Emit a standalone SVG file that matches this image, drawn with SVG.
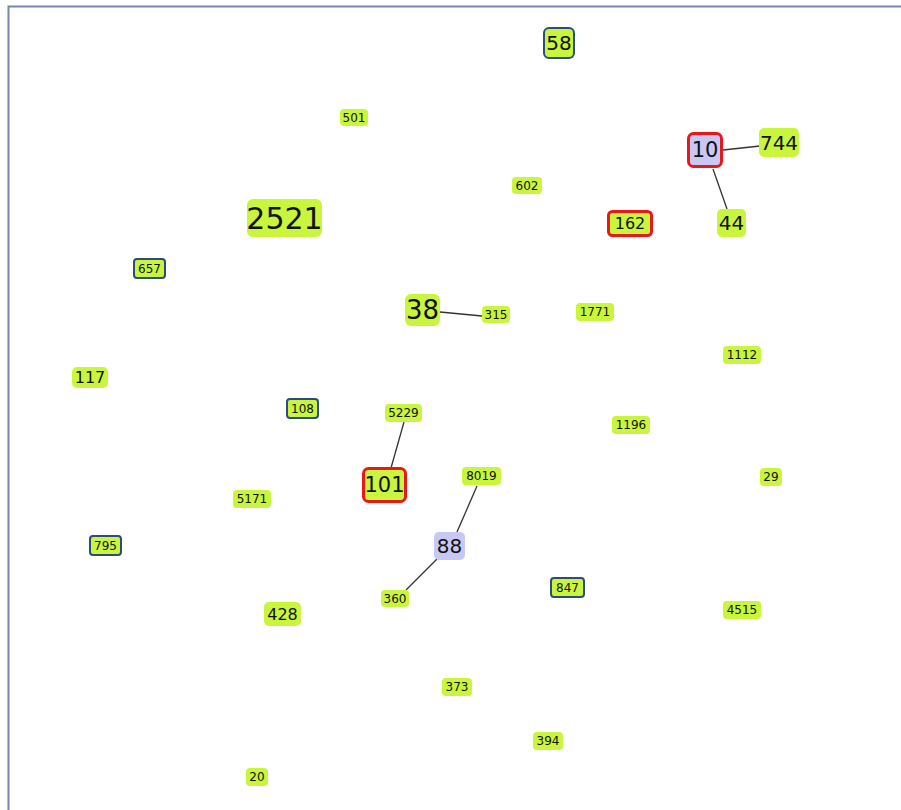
<svg xmlns="http://www.w3.org/2000/svg" width="901" height="810" viewBox="0 0 901 810">
<style>
.n{fill:#c9f53c;stroke:none}
.b{fill:#c9f53c;stroke:#2c4c80;stroke-width:2}
.r{fill:#c9f53c;stroke:#e81818;stroke-width:3}
.l{fill:#c8c8f4;stroke:none}
.lr{fill:#c8c8f4;stroke:#e81818;stroke-width:3}
text{font-family:"DejaVu Sans","Liberation Sans",sans-serif;fill:#111;text-anchor:middle;dominant-baseline:central}
.s{font-size:12px}
.m{font-size:16px}
.g{font-size:20px}
#edges line{stroke:#333;stroke-width:1.3}
</style>
<rect x="0" y="0" width="901" height="810" fill="#fff"/>
<path d="M8.5 810 V6.5 H901" fill="none" stroke="#7888a8" stroke-width="2"/>
<g id="edges">
<line x1="723" y1="150" x2="760" y2="146"/>
<line x1="713" y1="169" x2="727" y2="209"/>
<line x1="440" y1="312" x2="482" y2="316"/>
<line x1="404" y1="422" x2="391" y2="468"/>
<line x1="477" y1="486" x2="457" y2="532"/>
<line x1="437" y1="559" x2="406" y2="590"/>
</g>
<g id="n58"><rect class="b" x="544" y="28" width="30" height="30" rx="5"/><text x="559" y="43" style="font-size:20px">58</text></g>
<g id="n501"><rect class="n" x="340" y="109" width="28" height="17" rx="4"/><text class="s" x="354" y="117.5">501</text></g>
<g id="n10"><rect class="lr" x="688.5" y="133.5" width="33" height="33" rx="5"/><text x="705" y="150" style="font-size:21px">10</text></g>
<g id="n744"><rect class="n" x="759" y="128" width="40" height="29" rx="5"/><text class="g" x="779" y="142.5">744</text></g>
<g id="n602"><rect class="n" x="512" y="177" width="30" height="17" rx="4"/><text class="s" x="527" y="185.5">602</text></g>
<g id="n2521"><rect class="n" x="247" y="199" width="75" height="38" rx="6"/><text x="284.5" y="218" style="font-size:30px">2521</text></g>
<g id="n162"><rect class="r" x="608.5" y="211.5" width="43" height="24" rx="4"/><text class="m" x="630" y="223.5">162</text></g>
<g id="n44"><rect class="n" x="717" y="209" width="29" height="28" rx="5"/><text class="g" x="731.5" y="223">44</text></g>
<g id="n657"><rect class="b" x="134" y="259" width="31" height="19" rx="3"/><text class="s" x="149.5" y="268.5">657</text></g>
<g id="n38"><rect class="n" x="405" y="294" width="35" height="32" rx="6"/><text x="422.5" y="310" style="font-size:26px">38</text></g>
<g id="n315"><rect class="n" x="482" y="306" width="28" height="17" rx="4"/><text class="s" x="496" y="314.5">315</text></g>
<g id="n1771"><rect class="n" x="576" y="303" width="38" height="18" rx="4"/><text class="s" x="595" y="312">1771</text></g>
<g id="n1112"><rect class="n" x="723" y="346" width="38" height="18" rx="4"/><text class="s" x="742" y="355">1112</text></g>
<g id="n117"><rect class="n" x="72" y="367" width="36" height="21" rx="5"/><text class="m" x="90" y="377.5">117</text></g>
<g id="n108"><rect class="b" x="287" y="399" width="31" height="19" rx="3"/><text class="s" x="302.5" y="408.5">108</text></g>
<g id="n5229"><rect class="n" x="385" y="404" width="37" height="18" rx="4"/><text class="s" x="403.5" y="413">5229</text></g>
<g id="n1196"><rect class="n" x="612" y="416" width="38" height="18" rx="4"/><text class="s" x="631" y="425">1196</text></g>
<g id="n101"><rect class="r" x="363.5" y="468.5" width="42" height="33" rx="5"/><text x="384.5" y="485" style="font-size:21px">101</text></g>
<g id="n8019"><rect class="n" x="462" y="467" width="39" height="18" rx="4"/><text class="s" x="481.5" y="476">8019</text></g>
<g id="n29"><rect class="n" x="760" y="468" width="22" height="18" rx="4"/><text class="s" x="771" y="477">29</text></g>
<g id="n5171"><rect class="n" x="233" y="490" width="38" height="18" rx="4"/><text class="s" x="252" y="499">5171</text></g>
<g id="n88"><rect class="l" x="434" y="532" width="31" height="28" rx="5"/><text x="449.5" y="546" style="font-size:20px">88</text></g>
<g id="n795"><rect class="b" x="90" y="536" width="31" height="19" rx="3"/><text class="s" x="105.5" y="545.5">795</text></g>
<g id="n847"><rect class="b" x="551" y="578" width="33" height="19" rx="3"/><text class="s" x="567.5" y="587.5">847</text></g>
<g id="n360"><rect class="n" x="381" y="590" width="28" height="17" rx="4"/><text class="s" x="395" y="598.5">360</text></g>
<g id="n428"><rect class="n" x="264" y="602" width="37" height="24" rx="5"/><text class="m" x="282.5" y="614">428</text></g>
<g id="n4515"><rect class="n" x="723" y="601" width="38" height="18" rx="4"/><text class="s" x="742" y="610">4515</text></g>
<g id="n373"><rect class="n" x="442" y="678" width="30" height="18" rx="4"/><text class="s" x="457" y="687">373</text></g>
<g id="n394"><rect class="n" x="533" y="732" width="30" height="18" rx="4"/><text class="s" x="548" y="741">394</text></g>
<g id="n20"><rect class="n" x="246" y="768" width="22" height="18" rx="4"/><text class="s" x="257" y="777">20</text></g>
</svg>
